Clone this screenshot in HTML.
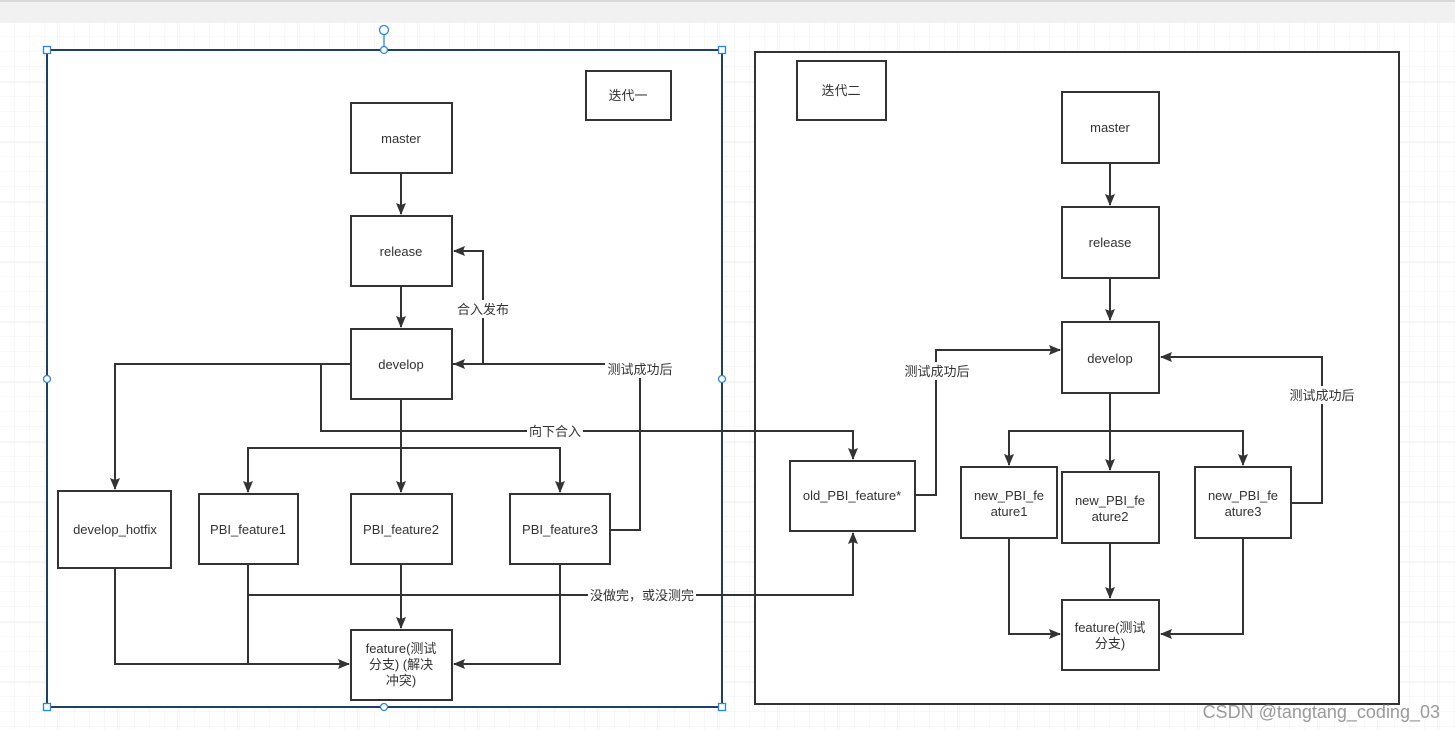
<!DOCTYPE html>
<html><head><meta charset="utf-8"><style>
html,body{margin:0;padding:0;background:#fff;}
svg{display:block;}
text{font-family:"Liberation Sans","Noto Sans CJK SC",sans-serif;font-size:13px;fill:#333;}
</style></head><body>
<svg width="1455" height="730" viewBox="0 0 1455 730" xmlns="http://www.w3.org/2000/svg">
<defs>
<pattern id="g" x="0" y="22" width="15" height="15" patternUnits="userSpaceOnUse">
<path d="M15 0V15M0 15H15" stroke="#f0f0f0" stroke-width="1" fill="none"/>
</pattern>
<pattern id="G" x="-3" y="22" width="60" height="60" patternUnits="userSpaceOnUse">
<path d="M0 0V60M0 0H60" stroke="#e8e8e8" stroke-width="1" fill="none"/>
</pattern>
<marker id="a" markerWidth="12" markerHeight="10" refX="11" refY="5" orient="auto" markerUnits="userSpaceOnUse">
<path d="M0,0 L12,5 L0,10 L2,5 Z" fill="#333"/>
</marker>
</defs>
<rect x="0" y="0" width="1455" height="730" fill="#fff"/>
<rect x="0" y="22" width="1455" height="708" fill="url(#g)"/>
<rect x="0" y="22" width="1455" height="708" fill="url(#G)"/>
<rect x="0" y="0" width="1455" height="22" fill="#f1f1f1"/>
<rect x="0" y="0" width="1455" height="2" fill="#d8d8d8"/>

<rect x="47" y="50" width="675" height="657" fill="#fff" stroke="#1f3f66" stroke-width="2"/>
<rect x="755" y="52" width="644" height="652" fill="#fff" stroke="#333" stroke-width="2"/>

<g fill="#fff" stroke="#333" stroke-width="2">
<rect x="586" y="71" width="85" height="49"/>
<rect x="351" y="103" width="101" height="70"/>
<rect x="351" y="216" width="101" height="70"/>
<rect x="351" y="329" width="101" height="70"/>
<rect x="58" y="491" width="113" height="77"/>
<rect x="199" y="494" width="99" height="70"/>
<rect x="351" y="494" width="101" height="70"/>
<rect x="510" y="494" width="100" height="70"/>
<rect x="351" y="630" width="101" height="70"/>
<rect x="797" y="61" width="89" height="59"/>
<rect x="1062" y="92" width="97" height="71"/>
<rect x="1062" y="207" width="97" height="71"/>
<rect x="1062" y="322" width="97" height="71"/>
<rect x="790" y="461" width="125" height="70"/>
<rect x="961" y="467" width="96" height="71"/>
<rect x="1062" y="472" width="97" height="71"/>
<rect x="1195" y="467" width="96" height="71"/>
<rect x="1062" y="600" width="97" height="70"/>
</g>

<g fill="none" stroke="#333" stroke-width="2">
<path d="M401 173V214" marker-end="url(#a)"/>
<path d="M401 286V327" marker-end="url(#a)"/>
<path d="M401 399V492" marker-end="url(#a)"/>
<path d="M351 364H115V489" marker-end="url(#a)"/>
<path d="M321 364V431H853V459" marker-end="url(#a)"/>
<path d="M401 448H248V492" marker-end="url(#a)"/>
<path d="M401 448H560V492" marker-end="url(#a)"/>
<path d="M452 364H483V251H454" marker-end="url(#a)"/>
<path d="M610 530H640V364H454" marker-end="url(#a)"/>
<path d="M115 568V664H349" marker-end="url(#a)"/>
<path d="M248 564V664"/>
<path d="M401 564V628" marker-end="url(#a)"/>
<path d="M560 564V664H454" marker-end="url(#a)"/>
<path d="M248 595H853V533" marker-end="url(#a)"/>
<path d="M915 495H936V350H1060" marker-end="url(#a)"/>
<path d="M1110 163V205" marker-end="url(#a)"/>
<path d="M1110 278V320" marker-end="url(#a)"/>
<path d="M1110 393V470" marker-end="url(#a)"/>
<path d="M1110 431H1009V465" marker-end="url(#a)"/>
<path d="M1110 431H1243V465" marker-end="url(#a)"/>
<path d="M1291 503H1322V357H1161" marker-end="url(#a)"/>
<path d="M1009 538V634H1060" marker-end="url(#a)"/>
<path d="M1110 543V598" marker-end="url(#a)"/>
<path d="M1243 538V634H1161" marker-end="url(#a)"/>
</g>

<g>
<rect x="456" y="300" width="54" height="18" fill="#fff"/>
<rect x="605" y="360" width="70" height="18" fill="#fff"/>
<rect x="527" y="423" width="56" height="17" fill="#fff"/>
<rect x="588" y="586" width="108" height="18" fill="#fff"/>
<rect x="903" y="362" width="68" height="18" fill="#fff"/>
<rect x="1288" y="386" width="68" height="18" fill="#fff"/>
</g>
<g text-anchor="middle">
<text x="483" y="314">合入发布</text>
<text x="640" y="374">测试成功后</text>
<text x="555" y="436">向下合入</text>
<text x="642" y="600">没做完，或没测完</text>
<text x="937" y="376">测试成功后</text>
<text x="1322" y="400">测试成功后</text>

<text x="628" y="100">迭代一</text>
<text x="401" y="143">master</text>
<text x="401" y="256">release</text>
<text x="401" y="369">develop</text>
<text x="115" y="534">develop_hotfix</text>
<text x="248" y="534">PBI_feature1</text>
<text x="401" y="534">PBI_feature2</text>
<text x="560" y="534">PBI_feature3</text>
<text x="401" y="653">feature(测试</text>
<text x="401" y="669">分支) (解决</text>
<text x="401" y="685">冲突)</text>
<text x="841" y="95">迭代二</text>
<text x="1110" y="132">master</text>
<text x="1110" y="247">release</text>
<text x="1110" y="363">develop</text>
<text x="852" y="500">old_PBI_feature*</text>
<text x="1009" y="500">new_PBI_fe</text>
<text x="1009" y="516">ature1</text>
<text x="1110" y="505">new_PBI_fe</text>
<text x="1110" y="521">ature2</text>
<text x="1243" y="500">new_PBI_fe</text>
<text x="1243" y="516">ature3</text>
<text x="1110" y="632">feature(测试</text>
<text x="1110" y="648">分支)</text>
</g>

<g fill="#fff" stroke="#2a84e8" stroke-width="1.3">
<line x1="384" y1="30" x2="384" y2="50"/>
<circle cx="384" cy="30" r="4.5"/>
<circle cx="384" cy="50" r="3.5"/>
<rect x="43.5" y="46.5" width="7" height="7"/>
<rect x="718.5" y="46.5" width="7" height="7"/>
<rect x="43.5" y="703.5" width="7" height="7"/>
<rect x="718.5" y="703.5" width="7" height="7"/>
<circle cx="47" cy="379" r="3.5"/>
<circle cx="722" cy="379" r="3.5"/>
<circle cx="384" cy="707" r="3.5"/>
</g>

<text x="1440" y="718" text-anchor="end" style="font-size:18px;fill:#9a9a9a;">CSDN @tangtang_coding_03</text>
</svg>
</body></html>
